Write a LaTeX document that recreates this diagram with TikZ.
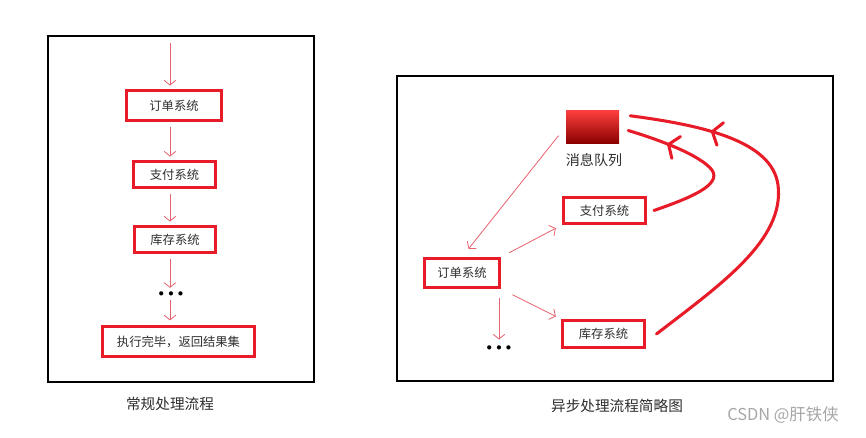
\documentclass[tikz,border=0pt]{standalone}
\usepackage{fontspec}
\setmainfont{Noto Sans CJK SC}
\usepackage{tikz}
\usetikzlibrary{arrows.meta, positioning, decorations.markings}
\definecolor{boxred}{RGB}{232,28,40}
\definecolor{penred}{RGB}{230,100,112}
\definecolor{textgray}{RGB}{45,45,45}
\tikzset{
    block_red/.style={rectangle, draw=boxred, line width=2.4pt, text=textgray, font=\fontsize{10.5}{12}\selectfont, inner sep=0pt},
    block_queue/.style={rectangle, top color=red!75!white, bottom color=red!55!black, minimum width=1.59cm, minimum height=0.99cm},
    arrow_pen/.style={draw=penred, line width=0.7pt, -{Straight Barb[length=4pt, width=10pt]}},
    curve_red/.style={draw=boxred, line width=2.6pt, line cap=round, postaction={decorate}, decoration={markings, mark=at position #1 with {\arrow[color=boxred]{Straight Barb[length=7pt, width=20pt, round]}}}},
    frame_box/.style={draw=black, line width=1.6pt},
    caption/.style={text=textgray, font=\fontsize{12.5}{14}\selectfont}
}
\begin{document}
\begin{tikzpicture}[x=0.03cm, y=-0.03cm]
    \useasboundingbox (0,0) rectangle (866,437);
    \draw[frame_box] (48,36) rectangle (314,382);
    \draw[frame_box] (397,76) rectangle (833,381);

    \coordinate (start1) at (170,43);
    \node (order1) [block_red, minimum width=2.85cm, minimum height=0.9cm] at (174,105.5) {订单系统};
    \node (pay1) [block_red, minimum width=2.46cm, minimum height=0.78cm] at (174.5,174.5) {支付系统};
    \node (stock1) [block_red, minimum width=2.43cm, minimum height=0.78cm] at (175,239.5) {库存系统};
    \node (dots1) [inner sep=1pt, font=\fontsize{9}{9}\selectfont] at (171,294) {$\bullet\,\bullet\,\bullet$};
    \node (done1) [block_red, minimum width=4.56cm, minimum height=0.9cm] at (178.5,341.5) {执行完毕，返回结果集};
    \node (cap1) [caption] at (170,404) {常规处理流程};

    \draw[arrow_pen, shorten >=3pt] (start1) -- (order1.north -| start1);
    \draw[arrow_pen, shorten <=4pt, shorten >=3pt] (order1.south -| start1) -- (pay1.north -| start1);
    \draw[arrow_pen, shorten <=4pt, shorten >=3pt] (pay1.south -| start1) -- (stock1.north -| start1);
    \draw[arrow_pen, shorten <=4pt, shorten >=2pt] (stock1.south -| start1) -- (dots1.north -| start1);
    \draw[arrow_pen, shorten <=2pt, shorten >=4pt] (dots1.south -| start1) -- (done1.north -| start1);

    \node (queue) [block_queue] at (592.5,126.5) {};
    \node (queue_lbl) [text=textgray, font=\fontsize{12}{14}\selectfont] at (594,160) {消息队列};
    \node (pay2) [block_red, minimum width=2.46cm, minimum height=0.78cm] at (604.5,210.5) {支付系统};
    \node (order2) [block_red, minimum width=2.25cm, minimum height=0.87cm] at (462,273) {订单系统};
    \node (stock2) [block_red, minimum width=2.46cm, minimum height=0.81cm] at (603.5,334) {库存系统};
    \node (dots2) [inner sep=1pt, font=\fontsize{9}{9}\selectfont] at (499,348) {$\bullet\,\bullet\,\bullet$};
    \node (cap2) [caption] at (617,406) {异步处理流程简略图};
    \node (mark) [text=black!35, font=\fontsize{14}{16}\selectfont] at (783,415) {CSDN @肝铁侠};

    \draw[arrow_pen, shorten <=10pt, shorten >=9pt] (queue.west) -- (order2.north);
    \draw[arrow_pen, shorten <=8pt, shorten >=6pt] (order2.north east) -- (pay2.south west);
    \draw[arrow_pen, shorten <=11pt, shorten >=5pt] (order2.south east) -- (stock2.north west);
    \draw[arrow_pen, shorten <=8pt, shorten >=4pt] (dots2 |- order2.south) -- (dots2.north);

    \draw[curve_red=0.76] ([xshift=6pt]pay2.east) .. controls (690,198) and (722,185) .. (712,170)
        .. controls (700,155) and (660,140) .. ([shift={(9,4)}]queue.east);
    \draw[curve_red=0.78] ([xshift=9pt]stock2.east) .. controls (720,285) and (785,240) .. (778,185)
        .. controls (772,140) and (700,125) .. ([shift={(11,6)}]queue.north east);
\end{tikzpicture}
\end{document}
